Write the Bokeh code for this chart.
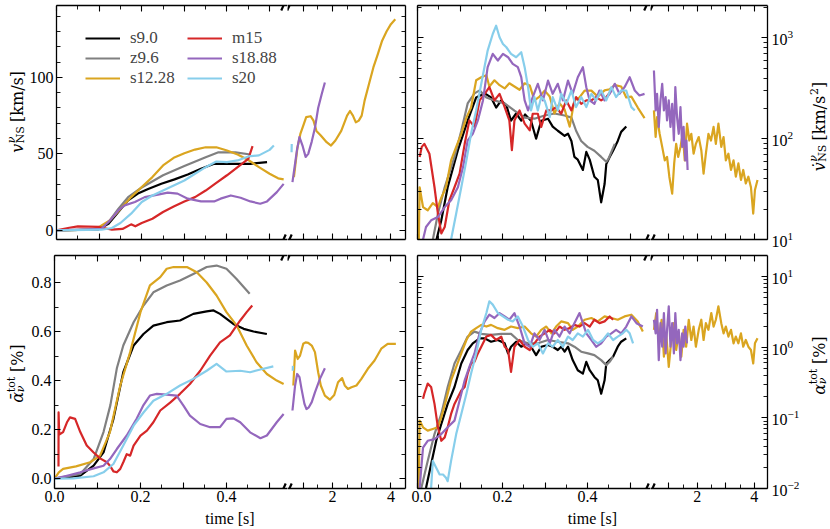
import math
from bokeh.plotting import figure
from bokeh.models import (Range1d, LinearAxis, LogAxis, FixedTicker, PrintfTickFormatter,
                          LogTickFormatter, Legend, LegendItem, Label, Arrow, LogScale)
from bokeh.layouts import row, column
from bokeh.embed import file_html
from bokeh.resources import INLINE

# ---------------- data (time in s) ----------------
NAMES = ["s9.0", "z9.6", "s12.28", "m15", "s18.88", "s20"]
COLORS = ["#000000", "#808080", "#DAA520", "#D62728", "#9467BD", "#87CEEB"]

# top-left: kick velocity [km/s]
vel_t_s90 = [0, 0.05, 0.098, 0.122, 0.145, 0.168, 0.191, 0.215, 0.246, 0.277, 0.308, 0.339, 0.37, 0.416, 0.455, 0.494]
vel_s90 = [0, 0.2, 0.65, 4.3, 12, 19.6, 24, 27, 30.4, 33.3, 36.5, 40.2, 43.5, 43.5, 43.5, 44.6]
vel_t_z96 = [0, 0.05, 0.098, 0.122, 0.145, 0.168, 0.2, 0.25, 0.3, 0.35, 0.38, 0.42, 0.455]
vel_z96 = [0, 0.2, 0.5, 5.4, 14, 21.7, 28, 36, 42, 47.8, 51, 51, 49.6]
vel_t_s1228 = [0, 0.08, 0.1, 0.125, 0.15, 0.175, 0.2, 0.225, 0.25, 0.275, 0.3, 0.325, 0.35, 0.375, 0.4, 0.425, 0.45, 0.475, 0.5, 0.52, 0.533]
vel_s1228 = [0, 0.4, 2.2, 6.5, 14, 21.7, 28.3, 34.8, 42.4, 47.4, 50.4, 52.8, 54.3, 54.3, 52.2, 49.6, 46, 41.3, 37, 34, 33.3]
vel_t_m15 = [0, 0.03, 0.05, 0.1, 0.13, 0.155, 0.175, 0.185, 0.2, 0.225, 0.25, 0.275, 0.3, 0.325, 0.35, 0.375, 0.4, 0.425, 0.45, 0.46]
vel_m15 = [0, 1.7, 2.6, 2.2, 0.4, 0.9, 3.9, 2.6, 4.8, 7.6, 12, 15.6, 18.9, 21.7, 26, 31, 36, 41.3, 46.7, 55]
vel_t_s1888 = [0, 0.106, 0.129, 0.145, 0.16, 0.184, 0.207, 0.238, 0.261, 0.284, 0.308, 0.339, 0.37, 0.385, 0.409, 0.432, 0.455, 0.478, 0.494, 0.517, 0.533]
vel_s1888 = [0, 1, 7.6, 13, 16.3, 18.5, 21.7, 23.3, 24.6, 24, 20.7, 18.9, 18.9, 20.7, 22.8, 21.3, 18.9, 17.4, 18.9, 25, 30.4]
vel_t_s20 = [0, 0.106, 0.13, 0.15, 0.175, 0.2, 0.225, 0.25, 0.275, 0.3, 0.325, 0.35, 0.375, 0.4, 0.425, 0.45, 0.475, 0.5, 0.51]
vel_s20 = [0, 0.4, 1.5, 4.8, 10.9, 18.5, 22.8, 26, 29.3, 32.6, 37, 41.3, 45, 44.6, 45.7, 48.3, 49, 52.6, 55.4]
vel_late_t_s1228 = [0.68, 0.8, 0.9, 1.0, 1.1, 1.25, 1.35, 1.45, 1.6, 1.8, 1.95, 2.1, 2.3, 2.5, 2.6, 2.7, 2.8, 2.9, 3.0, 3.1, 3.25, 3.4, 3.55, 3.7, 3.85, 4.0, 4.15]
vel_late_s1228 = [34.8, 54, 63, 68.5, 74, 74.6, 71.7, 65, 62, 57.6, 55.4, 58.7, 65, 75, 78, 75, 70.6, 71.7, 75, 84.8, 95.7, 106.5, 115, 124, 130, 134.8, 138]
vel_late_t_s1888 = [0.63, 0.78, 0.87, 0.98, 1.08, 1.17, 1.29, 1.40, 1.51, 1.63, 1.74]
vel_late_s1888 = [31.5, 52, 61, 55, 48, 50, 58, 67, 80, 89, 96.7]
vel_late_t_s20 = [0.6, 0.605]
vel_late_s20 = [51, 56.5]

# bottom-left: mean anisotropy [%]
ab_t_s90 = [0, 0.06, 0.091, 0.114, 0.137, 0.16, 0.184, 0.207, 0.23, 0.261, 0.292, 0.323, 0.354, 0.37, 0.385, 0.416, 0.44, 0.463, 0.494]
ab_s90 = [0, 0.012, 0.053, 0.107, 0.243, 0.434, 0.543, 0.59, 0.624, 0.638, 0.645, 0.672, 0.682, 0.686, 0.672, 0.631, 0.611, 0.6, 0.59]
ab_t_z96 = [0, 0.06, 0.091, 0.114, 0.13, 0.145, 0.16, 0.184, 0.207, 0.23, 0.261, 0.292, 0.323, 0.354, 0.377, 0.4, 0.423, 0.454]
ab_z96 = [0, 0.019, 0.08, 0.19, 0.3, 0.45, 0.543, 0.638, 0.706, 0.76, 0.788, 0.808, 0.835, 0.863, 0.869, 0.856, 0.815, 0.754]
ab_t_s1228 = [0, 0.01, 0.02, 0.05, 0.083, 0.106, 0.129, 0.153, 0.176, 0.2, 0.222, 0.246, 0.261, 0.277, 0.308, 0.331, 0.354, 0.377, 0.4, 0.424, 0.447, 0.47, 0.494, 0.517, 0.533]
ab_s1228 = [0, 0.026, 0.04, 0.05, 0.067, 0.094, 0.19, 0.38, 0.516, 0.679, 0.788, 0.822, 0.856, 0.863, 0.863, 0.842, 0.8, 0.747, 0.679, 0.624, 0.543, 0.475, 0.427, 0.4, 0.386]
ab_t_m15 = [0.0093, 0.0095, 0.011, 0.02, 0.029, 0.036, 0.048, 0.06, 0.075, 0.091, 0.106, 0.122, 0.129, 0.137, 0.145, 0.153, 0.16, 0.168, 0.176, 0.184, 0.2, 0.215, 0.23, 0.246, 0.269, 0.292, 0.315, 0.339, 0.362, 0.385, 0.408, 0.432, 0.447, 0.46]
ab_m15 = [0.05, 0.27, 0.18, 0.19, 0.23, 0.25, 0.244, 0.19, 0.135, 0.107, 0.083, 0.067, 0.053, 0.03, 0.026, 0.04, 0.067, 0.1, 0.094, 0.135, 0.176, 0.196, 0.23, 0.278, 0.31, 0.346, 0.386, 0.44, 0.502, 0.556, 0.584, 0.645, 0.679, 0.706]
ab_t_s1888 = [0, 0.029, 0.06, 0.091, 0.114, 0.129, 0.145, 0.168, 0.191, 0.207, 0.222, 0.238, 0.261, 0.284, 0.3, 0.315, 0.339, 0.362, 0.385, 0.4, 0.416, 0.432, 0.455, 0.479, 0.494, 0.517, 0.533]
ab_s1888 = [0, 0.012, 0.026, 0.042, 0.053, 0.08, 0.121, 0.176, 0.244, 0.3, 0.339, 0.346, 0.343, 0.339, 0.298, 0.257, 0.223, 0.21, 0.21, 0.244, 0.246, 0.23, 0.189, 0.165, 0.176, 0.23, 0.264]
ab_t_s20 = [0, 0.044, 0.091, 0.114, 0.137, 0.16, 0.184, 0.207, 0.23, 0.261, 0.292, 0.323, 0.354, 0.377, 0.4, 0.432, 0.455, 0.479, 0.509]
ab_s20 = [0, 0.001, 0.01, 0.026, 0.06, 0.135, 0.216, 0.27, 0.318, 0.346, 0.38, 0.407, 0.44, 0.468, 0.437, 0.44, 0.434, 0.445, 0.458]
ab_late_t_s1228 = [0.66, 0.72, 0.81, 0.89, 1.0, 1.08, 1.17, 1.29, 1.4, 1.51, 1.6, 1.74, 1.91, 2.06, 2.19, 2.33, 2.42, 2.53, 2.65, 2.82, 2.99, 3.21, 3.44, 3.67, 3.89, 4.06, 4.17]
ab_late_s1228 = [0.38, 0.522, 0.488, 0.502, 0.55, 0.556, 0.554, 0.543, 0.516, 0.434, 0.38, 0.339, 0.322, 0.341, 0.393, 0.41, 0.38, 0.366, 0.373, 0.38, 0.407, 0.448, 0.482, 0.53, 0.55, 0.55, 0.55]
ab_late_t_s1888 = [0.63, 0.72, 0.79, 0.87, 0.94, 1.04, 1.11, 1.19, 1.29, 1.40, 1.57, 1.74]
ab_late_s1888 = [0.278, 0.38, 0.427, 0.414, 0.366, 0.305, 0.284, 0.291, 0.312, 0.352, 0.407, 0.45]
ab_late_t_s20 = [0.64, 0.645]
ab_late_s20 = [0.44, 0.46]

# top-right: kick acceleration [km/s^2]
vd_t_s90 = [0.042, 0.056, 0.071, 0.095, 0.118, 0.138, 0.158, 0.173, 0.185, 0.197, 0.209, 0.22, 0.232, 0.244, 0.253, 0.267, 0.279, 0.291, 0.307, 0.318, 0.33, 0.346, 0.354, 0.362, 0.369, 0.377, 0.389, 0.397, 0.405, 0.416, 0.424, 0.432, 0.44, 0.444, 0.452, 0.46, 0.471, 0.479, 0.491]
vd_s90 = [9, 15.5, 33, 77, 151, 257, 282, 257, 204, 240, 214, 151, 178, 151, 174, 151, 100, 151, 158, 132, 120, 107, 112, 95, 66, 62, 49, 74, 62, 42, 39, 23.4, 35.5, 56, 66, 76, 95, 117, 132]
vd_t_z96 = [0.034, 0.048, 0.064, 0.087, 0.103, 0.118, 0.134, 0.146, 0.162, 0.181, 0.205, 0.228, 0.252, 0.275, 0.299, 0.322, 0.346, 0.362, 0.373, 0.385, 0.4, 0.416, 0.432, 0.444, 0.449, 0.456, 0.464]
vd_z96 = [9, 18, 33, 66, 120, 224, 282, 302, 257, 240, 224, 190, 162, 158, 170, 178, 170, 162, 120, 95, 83, 76, 66, 59, 63, 74, 89]
vd_t_s1228 = [0.003, 0.005, 0.013, 0.024, 0.036, 0.048, 0.056, 0.067, 0.079, 0.091, 0.103, 0.115, 0.126, 0.138, 0.150, 0.162, 0.169, 0.181, 0.193, 0.205, 0.216, 0.228, 0.240, 0.252, 0.264, 0.275, 0.287, 0.299, 0.311, 0.322, 0.334, 0.346, 0.358, 0.369, 0.381, 0.393, 0.409, 0.424, 0.440, 0.452, 0.464, 0.479, 0.491, 0.503, 0.518, 0.534]
vd_s1228 = [9, 33, 21, 19.5, 23, 21, 26, 33, 61, 83, 112, 162, 204, 380, 407, 427, 330, 380, 340, 316, 355, 330, 306, 355, 338, 240, 262, 300, 262, 178, 225, 195, 132, 240, 257, 300, 300, 262, 302, 310, 340, 330, 257, 262, 204, 160]
vd_t_m15 = [0.005, 0.010, 0.016, 0.028, 0.040, 0.048, 0.056, 0.064, 0.075, 0.087, 0.099, 0.111, 0.122, 0.134, 0.146, 0.158, 0.169, 0.181, 0.193, 0.205, 0.216, 0.222, 0.228, 0.240, 0.252, 0.264, 0.271, 0.283, 0.291, 0.303, 0.315, 0.326, 0.338, 0.350, 0.362, 0.373, 0.385, 0.397, 0.409, 0.420, 0.432, 0.444, 0.456]
vd_m15 = [66, 83, 89, 71, 33, 18.1, 11.5, 13.3, 24.5, 33, 45, 89, 152, 131, 240, 279, 325, 240, 279, 206, 152, 77, 152, 191, 141, 121, 177, 177, 131, 191, 191, 206, 177, 240, 191, 259, 222, 240, 240, 259, 240, 259, 301]
vd_t_s1888 = [0.013, 0.020, 0.032, 0.048, 0.064, 0.079, 0.095, 0.107, 0.118, 0.130, 0.142, 0.154, 0.165, 0.177, 0.189, 0.201, 0.213, 0.224, 0.236, 0.244, 0.252, 0.260, 0.271, 0.283, 0.295, 0.307, 0.318, 0.330, 0.342, 0.354, 0.365, 0.377, 0.389, 0.397, 0.405, 0.416, 0.428, 0.440, 0.452, 0.464, 0.475, 0.487, 0.499, 0.511, 0.522, 0.534]
vd_s1888 = [10, 13.3, 15.5, 16.7, 21, 24.5, 33, 52, 96, 112, 152, 240, 513, 695, 597, 695, 644, 553, 513, 408, 240, 191, 259, 351, 240, 378, 279, 351, 240, 378, 279, 408, 513, 325, 240, 222, 301, 240, 279, 351, 279, 325, 408, 301, 269, 279]
vd_t_s20 = [0.079, 0.091, 0.103, 0.115, 0.126, 0.138, 0.150, 0.165, 0.177, 0.185, 0.193, 0.201, 0.209, 0.220, 0.232, 0.244, 0.252, 0.260, 0.267, 0.275, 0.283, 0.291, 0.299, 0.311, 0.318, 0.330, 0.338, 0.350, 0.362, 0.373, 0.385, 0.397, 0.409, 0.420, 0.432, 0.444, 0.456, 0.467, 0.479, 0.491, 0.503, 0.511]
vd_s20 = [10, 18.1, 33, 61, 112, 191, 351, 750, 1096, 1324, 1016, 872, 809, 695, 644, 722, 513, 325, 191, 259, 191, 259, 240, 164, 259, 191, 279, 222, 301, 206, 259, 206, 279, 240, 301, 240, 325, 259, 301, 301, 206, 191]
vd_late_t_s1228 = [0.48, 0.54, 0.59, 0.68, 0.77, 0.86, 0.94, 1.02, 1.12, 1.19, 1.26, 1.33, 1.41, 1.49, 1.56, 1.64, 1.72, 1.79, 1.87, 1.95, 2.05, 2.14, 2.22, 2.30, 2.39, 2.48, 2.57, 2.65, 2.74, 2.84, 2.92, 3.0, 3.09, 3.18, 3.27, 3.35, 3.44, 3.53, 3.61, 3.70, 3.79, 3.88, 3.96, 4.02, 4.11]
vd_late_s1228 = [191, 104, 164, 112, 83, 61, 66, 42, 28.5, 57, 89, 66, 83, 112, 61, 141, 96, 112, 71, 89, 104, 77, 45, 71, 112, 96, 131, 89, 141, 83, 104, 61, 71, 49, 61, 42, 57, 39, 49, 36, 42, 33, 18.1, 31, 39]
vd_late_t_s1888 = [0.48, 0.54, 0.59, 0.65, 0.71, 0.77, 0.83, 0.89, 0.94, 1.0, 1.06, 1.12, 1.18, 1.23, 1.29, 1.35, 1.41, 1.47, 1.52, 1.58, 1.62, 1.66]
vd_late_s1888 = [475, 191, 279, 131, 240, 351, 191, 259, 152, 240, 131, 222, 96, 325, 164, 112, 206, 83, 131, 61, 96, 49]

# bottom-right: anisotropy [%]
a_t_s90 = [0.020, 0.032, 0.044, 0.056, 0.071, 0.087, 0.103, 0.118, 0.130, 0.146, 0.158, 0.173, 0.189, 0.205, 0.213, 0.220, 0.232, 0.244, 0.256, 0.267, 0.279, 0.291, 0.307, 0.318, 0.330, 0.338, 0.346, 0.354, 0.365, 0.377, 0.389, 0.397, 0.405, 0.416, 0.424, 0.432, 0.440, 0.444, 0.452, 0.460, 0.471, 0.479, 0.491]
a_s90 = [0.0102, 0.022, 0.0474, 0.082, 0.158, 0.274, 0.59, 0.916, 1.14, 1.34, 1.34, 1.2, 1.27, 1.14, 0.82, 1.02, 1.2, 1.02, 1.14, 1.02, 0.776, 1.02, 1.08, 1.02, 0.916, 1.02, 0.867, 1.02, 0.659, 0.474, 0.425, 0.624, 0.474, 0.381, 0.341, 0.22, 0.341, 0.59, 0.659, 0.736, 1.02, 1.2, 1.34]
a_t_z96 = [0.009, 0.024, 0.040, 0.056, 0.071, 0.087, 0.103, 0.118, 0.134, 0.150, 0.173, 0.197, 0.220, 0.236, 0.260, 0.283, 0.307, 0.330, 0.354, 0.369, 0.385, 0.401, 0.416, 0.432, 0.444, 0.452, 0.460]
a_z96 = [0.0102, 0.0246, 0.059, 0.114, 0.274, 0.59, 0.916, 1.42, 1.67, 1.55, 1.5, 1.55, 1.55, 1.27, 1.14, 1.14, 1.27, 1.2, 1.14, 1.02, 0.867, 0.82, 0.776, 0.659, 0.56, 0.624, 0.736]
a_t_s1228 = [0.003, 0.005, 0.013, 0.024, 0.036, 0.048, 0.056, 0.067, 0.079, 0.091, 0.103, 0.115, 0.126, 0.138, 0.150, 0.162, 0.173, 0.189, 0.205, 0.220, 0.236, 0.252, 0.267, 0.279, 0.291, 0.303, 0.315, 0.326, 0.338, 0.354, 0.365, 0.377, 0.393, 0.409, 0.424, 0.440, 0.456, 0.471, 0.487, 0.503, 0.518, 0.530]
a_s1228 = [0.0102, 0.0916, 0.0736, 0.066, 0.0697, 0.0736, 0.102, 0.177, 0.341, 0.53, 0.82, 1.27, 1.67, 1.87, 2.08, 1.97, 2.08, 1.87, 1.77, 1.97, 1.87, 1.97, 1.58, 1.42, 1.77, 1.97, 1.58, 1.97, 2.33, 2.2, 1.77, 1.97, 2.46, 2.6, 2.33, 2.74, 2.6, 2.46, 2.74, 2.9, 2.33, 1.67]
a_t_m15 = [0.013, 0.016, 0.024, 0.032, 0.040, 0.048, 0.056, 0.064, 0.071, 0.079, 0.087, 0.095, 0.103, 0.111, 0.118, 0.126, 0.134, 0.142, 0.150, 0.162, 0.173, 0.185, 0.197, 0.205, 0.213, 0.220, 0.228, 0.240, 0.252, 0.264, 0.275, 0.287, 0.299, 0.311, 0.322, 0.334, 0.346, 0.358, 0.369, 0.381, 0.393, 0.405, 0.416, 0.428, 0.440, 0.452, 0.460]
a_m15 = [0.187, 0.22, 0.306, 0.274, 0.158, 0.0736, 0.0474, 0.053, 0.0736, 0.114, 0.158, 0.197, 0.245, 0.274, 0.425, 0.59, 0.624, 0.82, 1.02, 1.42, 1.5, 1.27, 1.42, 1.02, 0.916, 0.449, 1.02, 1.27, 1.02, 0.916, 1.14, 1.42, 1.58, 1.77, 1.58, 1.97, 1.77, 1.87, 2.08, 1.97, 2.2, 1.97, 2.46, 2.2, 2.33, 2.74, 2.46]
a_t_s1888 = [0.005, 0.013, 0.024, 0.040, 0.056, 0.071, 0.087, 0.099, 0.111, 0.122, 0.134, 0.146, 0.158, 0.169, 0.181, 0.193, 0.205, 0.216, 0.228, 0.240, 0.252, 0.264, 0.275, 0.287, 0.299, 0.311, 0.322, 0.334, 0.346, 0.358, 0.369, 0.381, 0.389, 0.397, 0.409, 0.420, 0.432, 0.444, 0.456, 0.467, 0.479, 0.491, 0.503, 0.515, 0.530]
a_s1888 = [0.0102, 0.038, 0.0474, 0.05, 0.059, 0.0736, 0.0916, 0.177, 0.341, 0.53, 0.82, 1.58, 2.33, 2.9, 2.6, 3.06, 2.74, 2.46, 3.06, 1.97, 1.14, 1.02, 1.58, 1.27, 1.77, 1.14, 1.77, 1.42, 1.97, 1.58, 2.2, 3.06, 2.2, 1.58, 1.27, 1.02, 1.14, 1.42, 1.58, 1.77, 1.58, 1.97, 2.74, 2.2, 1.97]
a_t_s20 = [0.032, 0.036, 0.044, 0.052, 0.060, 0.067, 0.071, 0.079, 0.091, 0.103, 0.115, 0.126, 0.138, 0.150, 0.162, 0.169, 0.177, 0.189, 0.201, 0.213, 0.224, 0.236, 0.248, 0.260, 0.271, 0.283, 0.295, 0.307, 0.318, 0.330, 0.342, 0.354, 0.365, 0.377, 0.389, 0.401, 0.413, 0.424, 0.436, 0.448, 0.460, 0.471, 0.483, 0.491, 0.499, 0.507]
a_s20 = [0.0102, 0.0246, 0.0197, 0.0158, 0.0158, 0.0142, 0.0127, 0.0246, 0.059, 0.114, 0.22, 0.425, 0.82, 1.77, 3.06, 4.49, 4.03, 3.06, 2.74, 2.46, 2.33, 2.74, 1.97, 1.27, 1.02, 1.14, 0.82, 1.14, 1.02, 1.27, 1.02, 1.42, 1.27, 1.58, 1.42, 1.77, 1.27, 1.14, 1.27, 1.58, 1.27, 1.42, 1.58, 1.77, 1.58, 1.14]
a_late_t_s1228 = [0.48, 0.56, 0.65, 0.75, 0.83, 0.91, 1.0, 1.09, 1.18, 1.26, 1.35, 1.44, 1.52, 1.61, 1.70, 1.79, 1.87, 1.95, 2.05, 2.14, 2.22, 2.30, 2.39, 2.49, 2.57, 2.65, 2.74, 2.84, 2.92, 3.0, 3.09, 3.18, 3.27, 3.35, 3.44, 3.53, 3.61, 3.70, 3.79, 3.88, 3.96, 4.02, 4.11]
a_late_s1228 = [1.77, 3.06, 1.27, 2.46, 0.736, 1.58, 0.53, 1.27, 2.2, 0.916, 1.58, 0.736, 1.77, 1.02, 2.46, 1.27, 1.97, 1.02, 1.77, 2.46, 1.27, 2.2, 1.77, 3.06, 1.97, 2.46, 3.81, 2.2, 1.58, 1.97, 1.42, 1.77, 1.14, 1.42, 1.14, 1.58, 1.02, 1.27, 1.02, 0.916, 0.59, 1.14, 1.34]
a_late_t_s1888 = [0.48, 0.54, 0.59, 0.65, 0.71, 0.77, 0.83, 0.89, 0.94, 1.0, 1.06, 1.12, 1.18, 1.23, 1.29, 1.35, 1.41, 1.47, 1.52, 1.58, 1.64]
a_late_s1888 = [2.46, 1.58, 3.41, 0.659, 2.2, 1.02, 3.06, 0.82, 1.77, 3.81, 1.02, 2.2, 0.82, 3.06, 1.14, 1.77, 0.659, 1.58, 1.02, 1.97, 1.14]

# ticks
X_EARLY_MAJOR = [0.0, 0.1, 0.2, 0.3, 0.4, 0.5]
X_EARLY_MINOR = [0.05, 0.15, 0.25, 0.35, 0.45]
X_EARLY_LABELS = {0.0: "0.0", 0.1: "", 0.2: "0.2", 0.3: "", 0.4: "0.4", 0.5: ""}
X_LATE_MAJOR = [1.0, 2.0, 3.0, 4.0]
X_LATE_MINOR = [1.5, 2.5, 3.5]
X_LATE_LABELS = {1.0: "", 2.0: "2", 3.0: "", 4.0: "4"}
VEL_MAJOR = [0, 50, 100]
VEL_MINOR = [10, 20, 30, 40, 60, 70, 80, 90, 110, 120, 130, 140]
AB_MAJOR = [0.0, 0.2, 0.4, 0.6, 0.8]
AB_MINOR = [0.1, 0.3, 0.5, 0.7]
VD_MAJOR = [10, 100, 1000]
VD_MINOR = [20, 30, 40, 50, 60, 70, 80, 90, 200, 300, 400, 500, 600, 700, 800, 900, 2000]
A_MAJOR = [0.01, 0.1, 1, 10]
A_MINOR = [0.02, 0.03, 0.04, 0.05, 0.06, 0.07, 0.08, 0.09, 0.2, 0.3, 0.4, 0.5, 0.6, 0.7, 0.8, 0.9,
           2, 3, 4, 5, 6, 7, 8, 9]

# ---------------- styling / layout ----------------
FONT = "Liberation Serif, serif"
LFONT = "DejaVu Serif, serif"
LW = 2.2
LEFT_W = 26
RIGHT_W = 26
BOTTOM_H = 20
ROW_H = [249, 259]
ROW_MB = [(5, 10), (6, 20)]          # top, bottom borders
COL_W = [261, 124, 239, 152]
COL_MB = [(28, 0), (0, 6), (6, 0), (0, 35)]   # left, right borders
COL_XR = [(0.0, 0.542), (0.46, 4.5), (0.0, 0.548), (0.36, 4.46)]
PANEL_YR = {(0, 0): (-6, 147), (0, 1): (10, 2100), (1, 0): (-0.04, 0.91), (1, 1): (0.01, 20)}
PANEL_LOG = {(0, 0): False, (0, 1): True, (1, 0): False, (1, 1): True}

early = {
    (0, 0): [(vel_t_s90, vel_s90), (vel_t_z96, vel_z96), (vel_t_s1228, vel_s1228),
             (vel_t_m15, vel_m15), (vel_t_s1888, vel_s1888), (vel_t_s20, vel_s20)],
    (0, 1): [(vd_t_s90, vd_s90), (vd_t_z96, vd_z96), (vd_t_s1228, vd_s1228),
             (vd_t_m15, vd_m15), (vd_t_s1888, vd_s1888), (vd_t_s20, vd_s20)],
    (1, 0): [(ab_t_s90, ab_s90), (ab_t_z96, ab_z96), (ab_t_s1228, ab_s1228),
             (ab_t_m15, ab_m15), (ab_t_s1888, ab_s1888), (ab_t_s20, ab_s20)],
    (1, 1): [(a_t_s90, a_s90), (a_t_z96, a_z96), (a_t_s1228, a_s1228),
             (a_t_m15, a_m15), (a_t_s1888, a_s1888), (a_t_s20, a_s20)],
}
late = {
    (0, 0): [(2, vel_late_t_s1228, vel_late_s1228), (4, vel_late_t_s1888, vel_late_s1888), (5, vel_late_t_s20, vel_late_s20)],
    (0, 1): [(2, vd_late_t_s1228, vd_late_s1228), (4, vd_late_t_s1888, vd_late_s1888)],
    (1, 0): [(2, ab_late_t_s1228, ab_late_s1228), (4, ab_late_t_s1888, ab_late_s1888), (5, ab_late_t_s20, ab_late_s20)],
    (1, 1): [(2, a_late_t_s1228, a_late_s1228), (4, a_late_t_s1888, a_late_s1888)],
}


def px2data(info, px, py):
    x0, x1, y0, y1, W, H, log = info
    x = x0 + px * (x1 - x0) / W
    if log:
        l0, l1 = math.log10(y0), math.log10(y1)
        y = 10 ** (l0 + py * (l1 - l0) / H)
    else:
        y = y0 + py * (y1 - y0) / H
    return x, y


def style_axis(ax, ticks, show, fmt=None, overrides=None, standoff=4):
    ax.axis_line_color = "black"
    ax.axis_line_width = 1.3
    ax.major_tick_line_color = "black"
    ax.major_tick_line_width = 1.1
    ax.minor_tick_line_color = "black"
    ax.minor_tick_line_width = 0.9
    ax.major_tick_in = 6
    ax.major_tick_out = 0
    ax.minor_tick_in = 4
    ax.minor_tick_out = 0
    if show:
        if fmt is not None:
            ax.formatter = fmt
        if overrides:
            ax.major_label_overrides = overrides
        ax.major_label_text_font = FONT
        ax.major_label_text_font_size = "16px"
        ax.major_label_text_color = "black"
        ax.major_label_standoff = standoff
    else:
        ax.major_label_overrides = {float(t): "" for t in ticks}
        ax.major_label_text_font_size = "0px"
        ax.major_label_standoff = 0


def add_mark(p, info, xa, xb, yc, side):
    xs, ys = px2data(info, xa, yc - 5)
    xe, ye = px2data(info, xb, yc + 5)
    p.add_layout(Arrow(end=None, x_start=xs, y_start=ys, x_end=xe, y_end=ye,
                       line_color="black", line_width=2.2), side)


def plain_fig(w, h):
    p = figure(width=w, height=h, x_axis_type=None, y_axis_type=None,
               x_range=Range1d(0, w), y_range=Range1d(0, h), output_backend="svg",
               toolbar_location=None, min_border_left=0, min_border_right=0,
               min_border_top=0, min_border_bottom=0)
    p.outline_line_color = None
    p.background_fill_color = "white"
    p.border_fill_color = "white"
    return p


def add_text(p, x, y, text, size, style="normal", angle=0.0, align="left", baseline="alphabetic", font=FONT):
    p.add_layout(Label(x=x, y=y, text=text, text_font=font, text_font_size=f"{size}px",
                       text_font_style=style, angle=angle, text_align=align,
                       text_baseline=baseline, text_color="black"))


def vlabel(p, bx, cy, pieces):
    total = sum(pc[4] * pc[1] for pc in pieces)
    y = cy - total / 2.0
    for text, size, style, shift, adv in pieces:
        if text:
            add_text(p, bx - shift, y, text, size, style, angle=math.pi / 2, font=LFONT)
        y += adv * size


figs = {}
renderers_tl = []
for ri in range(2):
    for ci in range(4):
        pc = ci // 2
        key = (ri, pc)
        xr = COL_XR[ci]
        yr = PANEL_YR[key]
        log = PANEL_LOG[key]
        mbl, mbr = COL_MB[ci]
        mbt, mbb = ROW_MB[ri]
        W = COL_W[ci] - mbl - mbr
        H = ROW_H[ri] - mbt - mbb
        info = (xr[0], xr[1], yr[0], yr[1], W, H, log)
        p = figure(width=COL_W[ci], height=ROW_H[ri], x_axis_type=None, y_axis_type=None,
                   x_range=Range1d(*xr), y_range=Range1d(*yr), output_backend="svg",
                   toolbar_location=None, min_border_left=mbl, min_border_right=mbr,
                   min_border_top=mbt, min_border_bottom=mbb)
        if log:
            p.y_scale = LogScale()
        p.outline_line_color = None
        p.background_fill_color = "white"
        p.border_fill_color = "white"

        is_early = (ci % 2 == 0)
        if is_early:
            xt, xm, xl, xf = X_EARLY_MAJOR, X_EARLY_MINOR, X_EARLY_LABELS, PrintfTickFormatter(format="%.1f")
        else:
            xt, xm, xl, xf = X_LATE_MAJOR, X_LATE_MINOR, X_LATE_LABELS, PrintfTickFormatter(format="%d")
        for side in ("below", "above"):
            ax = LinearAxis(ticker=FixedTicker(ticks=xt, minor_ticks=xm))
            style_axis(ax, xt, show=(side == "below" and ri == 1), fmt=xf, overrides=xl, standoff=2)
            p.add_layout(ax, side)
        if key == (0, 0):
            yt, ym, yf, ycls = VEL_MAJOR, VEL_MINOR, PrintfTickFormatter(format="%d"), LinearAxis
        elif key == (1, 0):
            yt, ym, yf, ycls = AB_MAJOR, AB_MINOR, PrintfTickFormatter(format="%.1f"), LinearAxis
        elif key == (0, 1):
            yt, ym, yf, ycls = VD_MAJOR, VD_MINOR, LogTickFormatter(), LogAxis
        else:
            yt, ym, yf, ycls = A_MAJOR, A_MINOR, LogTickFormatter(), LogAxis
        ax = ycls(ticker=FixedTicker(ticks=yt, minor_ticks=ym))
        if is_early:
            style_axis(ax, yt, show=(ci == 0), fmt=yf, standoff=3)
            p.add_layout(ax, "left")
        else:
            style_axis(ax, yt, show=(ci == 3), fmt=yf, standoff=4)
            p.add_layout(ax, "right")

        if is_early:
            for k, (tt, vv) in enumerate(early[key]):
                r = p.line(tt, vv, line_color=COLORS[k], line_width=LW, line_join="round")
                if key == (0, 0):
                    renderers_tl.append(r)
        else:
            for k, tt, vv in late[key]:
                p.line(tt, vv, line_color=COLORS[k], line_width=LW, line_join="round")

        if is_early:
            add_mark(p, info, W - 6.3, W - 1.8, 0, "below")
            add_mark(p, info, W - 6.3, W - 1.8, H, "above")
        else:
            add_mark(p, info, -0.3, 4.2, 0, "below")
            add_mark(p, info, -0.3, 4.2, H, "above")

        figs[(ri, ci)] = p

tl = figs[(0, 0)]
for col, (x0, idx) in enumerate([(29, [0, 1, 2]), (131, [3, 4, 5])]):
    leg = Legend(items=[LegendItem(label=NAMES[i], renderers=[renderers_tl[i]]) for i in idx],
                 location=(x0, 151))
    leg.border_line_color = None
    leg.background_fill_alpha = 0
    leg.label_text_font = FONT
    leg.label_text_font_size = "17px"
    leg.glyph_width = 35
    leg.glyph_height = 18
    leg.label_height = 18
    leg.label_standoff = 10
    leg.spacing = 0
    leg.padding = 0
    leg.margin = 0
    tl.add_layout(leg)

# axis titles in separate strips
GRID_H = ROW_H[0] + ROW_H[1]
F = 16
S = 11
BX = 17
SUP = 6
SUB = -3
left_strip = plain_fig(LEFT_W, GRID_H)
right_strip = plain_fig(RIGHT_W, GRID_H)
bottom_strip = plain_fig(LEFT_W + sum(COL_W) + RIGHT_W, BOTTOM_H)

vlabel(left_strip, BX, GRID_H - 111,
       [("v", F, "italic", 0, 0.59), ("\u03bd", S, "italic", SUP, 0), ("NS", S, "normal", SUB, 1.5),
        ("", F, "normal", 0, 0.3), ("[km/s]", F, "normal", 0, 3.23)])
vlabel(left_strip, BX, GRID_H - 373,
       [("\u1fb1", F, "italic", 0, 0.66), ("tot", S, "normal", SUP, 0), ("\u03bd", S, "italic", SUB, 1.41),
        ("", F, "normal", 0, 0.3), ("[%]", F, "normal", 0, 1.73)])
vlabel(right_strip, BX, GRID_H - 126,
       [("v\u0307", F, "italic", 0, 0.59), ("\u03bd", S, "italic", SUP, 0), ("NS", S, "normal", SUB, 1.5),
        ("", F, "normal", 0, 0.3), ("[km/s", F, "normal", 0, 2.84), ("2", S, "normal", SUP, 0.64),
        ("]", F, "normal", 0, 0.39)])
vlabel(right_strip, BX, GRID_H - 365,
       [("\u03b1", F, "italic", 0, 0.66), ("tot", S, "normal", SUP, 0), ("\u03bd", S, "italic", SUB, 1.41),
        ("", F, "normal", 0, 0.3), ("[%]", F, "normal", 0, 1.73)])
add_text(bottom_strip, 229.5, 10, "time [s]", 16, align="center", baseline="middle")
add_text(bottom_strip, 592, 10, "time [s]", 16, align="center", baseline="middle")

grid = column(row(figs[(0, 0)], figs[(0, 1)], figs[(0, 2)], figs[(0, 3)]),
              row(figs[(1, 0)], figs[(1, 1)], figs[(1, 2)], figs[(1, 3)]))
layout = column(row(left_strip, grid, right_strip), bottom_strip)

open("out.html", "w").write(file_html(layout, INLINE))
